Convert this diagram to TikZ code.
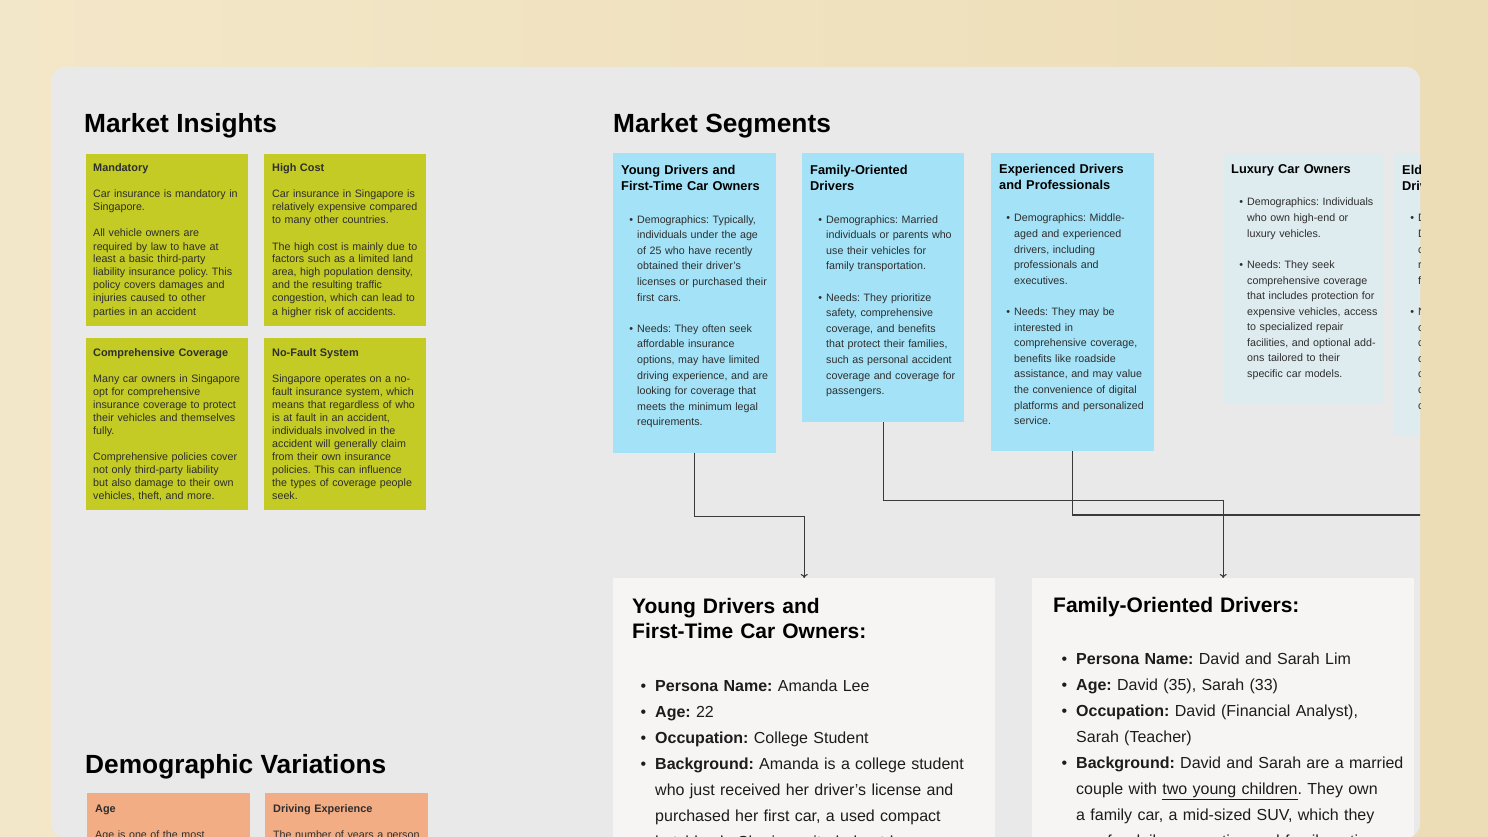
\documentclass[tikz,border=0pt]{standalone}
\usepackage{fontspec}
\setmainfont{Liberation Sans}
\usetikzlibrary{arrows.meta}

\definecolor{creamleft}{HTML}{F3E7C9}
\definecolor{creamright}{HTML}{EDDDB6}
\definecolor{panelgray}{HTML}{E9E9E9}
\definecolor{insightgreen}{HTML}{C4CB24}
\definecolor{segblue}{HTML}{A3E2F7}
\definecolor{segpale}{HTML}{DEEBEF}
\definecolor{personawhite}{HTML}{F7F5F4}
\definecolor{demoorange}{HTML}{F2AD84}
\definecolor{inktext}{HTML}{1C1C1C}
\definecolor{softtext}{HTML}{2E2E2E}
\definecolor{linkgray}{HTML}{3A3A3A}

\newcommand{\sbul}{\leavevmode\llap{\textbullet\hspace{4pt}}}
\newcommand{\pbul}{\leavevmode\llap{\textbullet\hspace{9pt}}}

\tikzset{
	card/.style={anchor=north west, inner sep=0pt, minimum width=162pt},
	insight/.style={card, fill=insightgreen, minimum height=172pt},
	segment/.style={card, fill=segblue},
	palesegment/.style={card, fill=segpale},
	persona/.style={card, fill=personawhite, minimum width=382pt, minimum height=300pt},
	demo/.style={card, fill=demoorange, minimum width=163pt, minimum height=60pt},
	heading/.style={anchor=base west, inner sep=0pt, text=black, font=\bfseries\fontsize{26.3}{30}\selectfont},
	insighttext/.style={anchor=base west, inner sep=0pt, text width=200pt, align=left, text=softtext, font=\frenchspacing\fontsize{10.7}{13}\selectfont},
	segtitle/.style={anchor=base west, inner sep=0pt, text width=200pt, align=left, text=black, font=\bfseries\fontsize{12.8}{15.6}\selectfont},
	segtext/.style={anchor=base west, inner sep=0pt, text width=200pt, align=left, text=softtext, font=\frenchspacing\fontsize{10.7}{15.6}\selectfont},
	personatitle/.style={anchor=base west, inner sep=0pt, text width=360pt, align=left, text=black, font=\bfseries\fontsize{21}{25.5}\selectfont},
	personatext/.style={anchor=base west, inner sep=0pt, text width=380pt, align=left, text=inktext, font=\frenchspacing\fontsize{16}{26}\selectfont},
	link/.style={draw=linkgray, line width=1.1pt, -{To[length=4pt,width=7pt]}},
	plainlink/.style={draw=linkgray, line width=1.1pt}
}

\begin{document}
\begin{tikzpicture}[x=1pt,y=-1pt]
	\useasboundingbox (0,0) rectangle (1488,837);
	%draw background and board
	\shade[left color=creamleft, right color=creamright] (0,0) rectangle (1488,837);
	\fill[panelgray, rounded corners=14pt] (51,67) rectangle (1420,838);
	\begin{scope}
	\clip[rounded corners=14pt] (51,67) rectangle (1420,838);
	%draw section titles
	\node[heading] (insighthead) at (84,133) {Market Insights};
	\node[heading] (segmenthead) at (613,133) {Market Segments};
	\node[heading] (demohead) at (85,773) {Demographic Variations};
	%draw market insight cards
	\node[insight] (mandatory) at (86,154) {};
	\node[insight] (highcost) at (264,154) {};
	\node[insight] (comprehensive) at (86,338) {};
	\node[insight] (nofault) at (264,338) {};
	\node[insighttext] (mandatorytxt) at (93,172) {{\bfseries\fontsize{10.9}{13}\selectfont Mandatory}\\[13pt]
		Car insurance is mandatory in\\
		Singapore.\\[13pt]
		All vehicle owners are\\
		required by law to have at\\
		least a basic third-party\\
		liability insurance policy. This\\
		policy covers damages and\\
		injuries caused to other\\
		parties in an accident};
	\node[insighttext] (highcosttxt) at (272,172) {{\bfseries\fontsize{10.9}{13}\selectfont High Cost}\\[13pt]
		Car insurance in Singapore is\\
		relatively expensive compared\\
		to many other countries.\\[13pt]
		The high cost is mainly due to\\
		factors such as a limited land\\
		area, high population density,\\
		and the resulting traffic\\
		congestion, which can lead to\\
		a higher risk of accidents.};
	\node[insighttext] (comprehensivetxt) at (93,356) {{\bfseries\fontsize{10.9}{13}\selectfont Comprehensive Coverage}\\[13pt]
		Many car owners in Singapore\\
		opt for comprehensive\\
		insurance coverage to protect\\
		their vehicles and themselves\\
		fully.\\[13pt]
		Comprehensive policies cover\\
		not only third-party liability\\
		but also damage to their own\\
		vehicles, theft, and more.};
	\node[insighttext] (nofaulttxt) at (272,356) {{\bfseries\fontsize{10.9}{13}\selectfont No-Fault System}\\[13pt]
		Singapore operates on a no-\\
		fault insurance system, which\\
		means that regardless of who\\
		is at fault in an accident,\\
		individuals involved in the\\
		accident will generally claim\\
		from their own insurance\\
		policies. This can influence\\
		the types of coverage people\\
		seek.};
	%draw market segment cards
	\node[segment, minimum width=163pt, minimum height=300pt] (young) at (613,153) {};
	\node[segment, minimum height=269pt] (family) at (802,153) {};
	\node[segment, minimum width=163pt, minimum height=298pt] (exper) at (991,153) {};
	\node[palesegment, minimum width=160pt, minimum height=250pt] (luxury) at (1224,153) {};
	\node[palesegment, minimum width=60pt, minimum height=283pt] (elderly) at (1394,153) {};
	\node[segtitle] (youngtitle) at (621,175) {Young Drivers and\\First-Time Car Owners};
	\node[segtext] (youngtxt) at (637,223) {\sbul Demographics: Typically,\\
		individuals under the age\\
		of 25 who have recently\\
		obtained their driver's\\
		licenses or purchased their\\
		first cars.\\[15.6pt]
		\sbul Needs: They often seek\\
		affordable insurance\\
		options, may have limited\\
		driving experience, and are\\
		looking for coverage that\\
		meets the minimum legal\\
		requirements.};
	\node[segtitle] (familytitle) at (810,175) {Family-Oriented\\Drivers};
	\node[segtext] (familytxt) at (826,223) {\sbul Demographics: Married\\
		individuals or parents who\\
		use their vehicles for\\
		family transportation.\\[15.6pt]
		\sbul Needs: They prioritize\\
		safety, comprehensive\\
		coverage, and benefits\\
		that protect their families,\\
		such as personal accident\\
		coverage and coverage for\\
		passengers.};
	\node[segtitle] (expertitle) at (999,174) {Experienced Drivers\\and Professionals};
	\node[segtext] (expertxt) at (1014,222) {\sbul Demographics: Middle-\\
		aged and experienced\\
		drivers, including\\
		professionals and\\
		executives.\\[15.6pt]
		\sbul Needs: They may be\\
		interested in\\
		comprehensive coverage,\\
		benefits like roadside\\
		assistance, and may value\\
		the convenience of digital\\
		platforms and personalized\\
		service.};
	\node[segtitle] (luxurytitle) at (1231,174) {Luxury Car Owners};
	\node[segtext] (luxurytxt) at (1247,206) {\sbul Demographics: Individuals\\
		who own high-end or\\
		luxury vehicles.\\[15.6pt]
		\sbul Needs: They seek\\
		comprehensive coverage\\
		that includes protection for\\
		expensive vehicles, access\\
		to specialized repair\\
		facilities, and optional add-\\
		ons tailored to their\\
		specific car models.};
	\node[segtitle] (elderlytitle) at (1402,175) {Elderly\\Drivers};
	\node[segtext] (elderlytxt) at (1418,222) {\sbul Demographics:\\
		Drivers aged 60 and older,\\
		commonly retirees or\\
		retiring professionals\\
		for leisure driving.\\[15.6pt]
		\sbul Needs: They may\\
		consider coverage that\\
		caters to age-related\\
		concerns, such as\\
		coverage for medical\\
		costs, and convenient\\
		claims support.};
	%draw persona cards
	\node[persona] (pyoung) at (613,578) {};
	\node[persona] (pfamily) at (1032,578) {};
	\node[personatitle] (pyoungtitle) at (632,613) {Young Drivers and\\First-Time Car Owners:};
	\node[personatext] (pyoungtxt) at (655,691) {\pbul\textbf{Persona Name:} Amanda Lee\\
		\pbul\textbf{Age:} 22\\
		\pbul\textbf{Occupation:} College Student\\
		\pbul\textbf{Background:} Amanda is a college student\\
		who just received her driver's license and\\
		purchased her first car, a used compact\\
		hatchback. She is excited about her};
	\node[personatitle] (pfamilytitle) at (1053,612) {Family-Oriented Drivers:};
	\node[personatext] (pfamilytxt) at (1076,664) {\pbul\textbf{Persona Name:} David and Sarah Lim\\
		\pbul\textbf{Age:} David (35), Sarah (33)\\
		\pbul\textbf{Occupation:} David (Financial Analyst),\\
		Sarah (Teacher)\\
		\pbul\textbf{Background:} David and Sarah are a married\\
		couple with \underline{two young children}. They own\\
		a family car, a mid-sized SUV, which they\\
		use for daily commuting and family outings.};
	%draw demographic cards
	\node[demo] (age) at (87,793) {};
	\node[demo] (experience) at (265,793) {};
	\node[insighttext] (agetxt) at (95,812) {{\bfseries\fontsize{10.9}{13}\selectfont Age}\\[13pt]
		Age is one of the most};
	\node[insighttext] (experiencetxt) at (273,812) {{\bfseries\fontsize{10.9}{13}\selectfont Driving Experience}\\[13pt]
		The number of years a person};
	%draw connectors
	\coordinate (offright) at (1430,515);
	\draw[link] (young.south) -- ++(0,63) -| (pyoung.north);
	\draw[link] (family.south) -- ++(0,78) -| (pfamily.north);
	\draw[plainlink] (exper.south) |- (offright);
	\end{scope}
\end{tikzpicture}
\end{document}
